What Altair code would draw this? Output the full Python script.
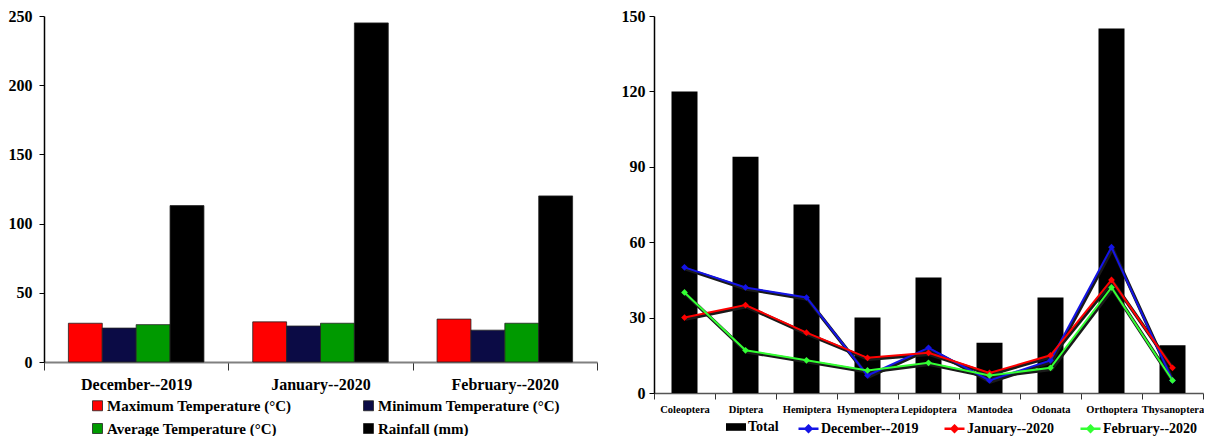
import altair as alt
import pandas as pd

# ---------------- data ----------------
months = ["December--2019", "January--2020", "February--2020"]
weather_vars = ["Maximum Temperature (°C)", "Minimum Temperature (°C)",
                "Average Temperature (°C)", "Rainfall (mm)"]
max_temp = [28, 29, 31]
min_temp = [24.5, 26, 23]
avg_temp = [27, 28, 28]
rainfall = [113, 245, 120]

orders = ["Coleoptera", "Diptera", "Hemiptera", "Hymenoptera", "Lepidoptera",
          "Mantodea", "Odonata", "Orthoptera", "Thysanoptera"]
total = [120, 94, 75, 30, 46, 20, 38, 145, 19]
dec_2019 = [50, 42, 38, 7, 18, 5, 13, 58, 5]
jan_2020 = [30, 35, 24, 14, 16, 8, 15, 45, 10]
feb_2020 = [40, 17, 13, 9, 12, 7, 10, 42, 5]
line_series = ["December--2019", "January--2020", "February--2020"]

FONT = "Liberation Serif"

# ---------------- left chart ----------------
wrows = []
for v, vals in zip(weather_vars, [max_temp, min_temp, avg_temp, rainfall]):
    for m, val in zip(months, vals):
        wrows.append({"month": m, "var": v, "value": val})
wdf = pd.DataFrame(wrows)

left = alt.Chart(wdf).mark_bar(stroke="#222222", strokeWidth=0.8).encode(
    x=alt.X("month:N", sort=months, title=None,
            scale=alt.Scale(paddingInner=0, paddingOuter=0),
            axis=alt.Axis(labelAngle=0, labelFontSize=16, tickBand="extent",
                          domainColor="#808080", domainWidth=2,
                          tickColor="#333333", tickSize=8, labelPadding=6)),
    xOffset=alt.XOffset("var:N", sort=weather_vars,
                        scale=alt.Scale(paddingInner=0, paddingOuter=0.72)),
    y=alt.Y("value:Q", title=None,
            scale=alt.Scale(domain=[0, 250], nice=False),
            axis=alt.Axis(values=[0, 50, 100, 150, 200, 250], labelFontSize=16,
                          domainColor="black", domainWidth=1.5, tickSize=5,
                          tickColor="black", labelPadding=7)),
    color=alt.Color("var:N", sort=weather_vars,
                    scale=alt.Scale(domain=weather_vars,
                                    range=["#ff0000", "#0b0b45", "#009a00", "#000000"]),
                    legend=alt.Legend(orient="none", legendX=46, legendY=382,
                                      columns=2, direction="horizontal", title=None,
                                      symbolType="square", symbolSize=100,
                                      symbolStrokeColor="#222222", symbolStrokeWidth=0.8,
                                      labelFontSize=15, labelFont=FONT,
                                      labelFontWeight="bold", labelColor="black",
                                      columnPadding=69, rowPadding=7,
                                      labelOffset=2, labelLimit=0))
).properties(width=553, height=346)

# ---------------- right chart ----------------
tdf = pd.DataFrame({"order": orders, "count": total, "series": "Total"})
lrows = []
for s, vals in zip(line_series, [dec_2019, jan_2020, feb_2020]):
    for o, val in zip(orders, vals):
        lrows.append({"order": o, "series": s, "count": val})
ldf = pd.DataFrame(lrows)

lscale = alt.Scale(domain=line_series, range=["#1414e6", "#ff0000", "#33ff33"])

xr = alt.X("order:N", sort=orders, title=None,
           scale=alt.Scale(paddingInner=0, paddingOuter=0),
           axis=alt.Axis(labelAngle=0, labelFontSize=10.5, tickBand="extent",
                         labelOverlap=False, labelLimit=0,
                         domainColor="#555555", domainWidth=1.5,
                         tickColor="#333333", tickSize=6, labelPadding=5))
yr = alt.Y("count:Q", title=None,
           scale=alt.Scale(domain=[0, 150], nice=False),
           axis=alt.Axis(values=[0, 30, 60, 90, 120, 150], labelFontSize=16,
                         domainColor="black", domainWidth=1.5, tickSize=5,
                         tickColor="black", labelPadding=4))

bars = alt.Chart(tdf).mark_bar(size=26).encode(
    x=xr, y=yr,
    fill=alt.Fill("series:N", scale=alt.Scale(domain=["Total"], range=["#000000"]),
                  legend=alt.Legend(orient="none", legendX=72, legendY=401,
                                    title=None, direction="horizontal",
                                    symbolType="M-1,-0.38H1V0.38H-1Z",
                                    symbolSize=400, symbolStrokeWidth=0,
                                    labelFontSize=14, labelFont=FONT,
                                    labelFontWeight="bold", labelColor="black",
                                    labelOffset=2, labelLimit=0)))

shadow = alt.Chart(ldf).mark_line(color="#1a1a1a", strokeWidth=3.5,
                                  xOffset=1, yOffset=1.5).encode(
    x=xr, y=yr, detail="series:N")

line_legend = alt.Legend(orient="none", legendX=143, legendY=401,
                         title=None, direction="horizontal",
                         symbolType="M-1,0H1M0,-0.3L0.3,0L0,0.3L-0.3,0Z",
                         symbolSize=400, symbolStrokeWidth=2.5,
                         labelFontSize=14, labelFont=FONT,
                         labelFontWeight="bold", labelColor="black",
                         columnPadding=20, labelOffset=1, labelLimit=0)

lines = alt.Chart(ldf).mark_line(strokeWidth=2).encode(
    x=xr, y=yr,
    color=alt.Color("series:N", scale=lscale, sort=line_series, legend=line_legend))

points = alt.Chart(ldf).mark_point(shape="diamond", filled=True, size=45,
                                   opacity=1).encode(
    x=xr, y=yr,
    color=alt.Color("series:N", scale=lscale, sort=line_series, legend=line_legend))

right = alt.layer(bars, shadow, lines, points).properties(width=549, height=377)

chart = alt.hconcat(left, right, spacing=23).resolve_scale(
    color="independent", fill="independent"
).resolve_legend(
    color="independent", fill="independent"
).properties(
    padding={"left": 0, "top": 0, "right": 0, "bottom": 0}
).configure_view(stroke=None).configure_axis(
    grid=False, labelFont=FONT, labelFontWeight="bold", labelColor="black"
).configure_legend(labelFont=FONT)

chart.save("out.html", embed_options={"renderer": "svg", "actions": False})
